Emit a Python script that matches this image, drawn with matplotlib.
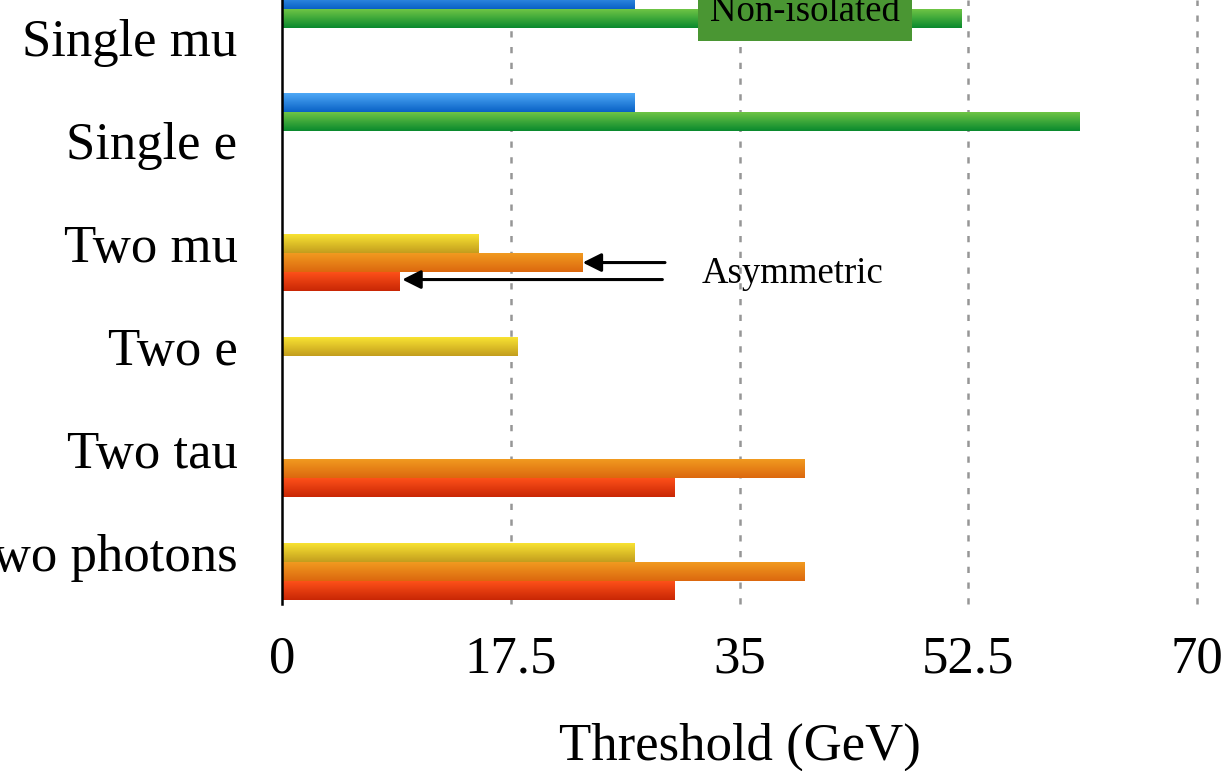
import numpy as np
import matplotlib
matplotlib.use("Agg")
import matplotlib.pyplot as plt
from matplotlib.colors import to_rgb

plt.rcParams['font.family'] = ['Liberation Serif', 'DejaVu Serif']

categories = ["Single mu", "Single e", "Two mu", "Two e", "Two tau", "Two photons"]
nan = np.nan
blue_vals = [27, 27, nan, nan, nan, nan]
green_vals = [52, 61, nan, nan, nan, nan]
yellow_vals = [nan, nan, 15, 18, nan, 27]
orange_vals = [nan, nan, 23, nan, 40, 40]
red_vals = [nan, nan, 9, nan, 30, 30]
x_ticks = [0, 17.5, 35, 52.5, 70]
x_tick_labels = ["0", "17.5", "35", "52.5", "70"]

series = [
    (blue_vals, "#4ea8f6", "#0a62c6"),
    (green_vals, "#6ec445", "#0a8a2e"),
    (yellow_vals, "#f8e232", "#c39e1e"),
    (orange_vals, "#f19a20", "#dc680e"),
    (red_vals, "#fd5019", "#c92705"),
]

fig = plt.figure(figsize=(12.28, 7.71), dpi=100)
ax = fig.add_axes([282/1228, (771-604)/771, (1197-282)/1228, 604/771])

y = np.arange(len(categories))
w = 0.185
offsets = [-2, -1, 0, 1, 2]

for (vals, ctop, cbot), off in zip(series, offsets):
    bars = ax.barh(y + off*w, vals, height=w*0.96, color=cbot, linewidth=0, zorder=2)
    n = 32
    t = np.linspace(0, 1, n)[:, None]
    grad = (1 - t) * np.array(to_rgb(ctop)) + t * np.array(to_rgb(cbot))
    grad = grad[:, None, :]
    for p in bars.patches:
        if not np.isfinite(p.get_width()) or p.get_width() == 0:
            continue
        x0, yb = p.get_x(), p.get_y()
        x1, yt = x0 + p.get_width(), yb + p.get_height()
        im = ax.imshow(grad, extent=[x0, x1, yt, yb], origin='upper',
                       aspect='auto', interpolation='bilinear', zorder=2.5)
        im.set_clip_path(p)

ax.set_xlim(0, 70)
ax.set_ylim(5.5, 5.5 - 604/103)
ax.set_xticks(x_ticks)
ax.set_xticklabels(x_tick_labels)
ax.set_yticks(y)
ax.set_yticklabels(categories)
ax.tick_params(axis='y', length=0, pad=32, labelsize=38)
ax.tick_params(axis='x', length=0, pad=23, labelsize=38)
for s in ['top', 'right', 'bottom']:
    ax.spines[s].set_visible(False)
ax.spines['left'].set_linewidth(1.8)
ax.spines['left'].set_zorder(4)

for xv in x_ticks[1:]:
    ax.axvline(xv, color='#969696', lw=1.8, ls=(0, (2.5, 3.8)), zorder=1, clip_on=False)

ax.set_xlabel("Threshold (GeV)", fontsize=38, labelpad=28)

# Annotations
ax.annotate('', xy=(orange_vals[2], 2 + w), xytext=(29.3, 2 + w),
            arrowprops=dict(arrowstyle='-|>', color='black', lw=2.2,
                            mutation_scale=28, shrinkA=0, shrinkB=0), zorder=5)
ax.annotate('', xy=(red_vals[2] + 0.2, 2 + 2*w - 0.02), xytext=(29.1, 2 + 2*w - 0.02),
            arrowprops=dict(arrowstyle='-|>', color='black', lw=2.2,
                            mutation_scale=28, shrinkA=0, shrinkB=0), zorder=5)
ax.text(32.1, 2.29, "Asymmetric", fontsize=26.5, va='center', ha='left', zorder=5)

ax.text(40.0, -0.16, "Non-isolated", fontsize=26.5, va='baseline', ha='center', zorder=5,
        bbox=dict(boxstyle='square,pad=0.32', facecolor='#4a9633', edgecolor='none'))

fig.savefig("out.png", dpi=100)
